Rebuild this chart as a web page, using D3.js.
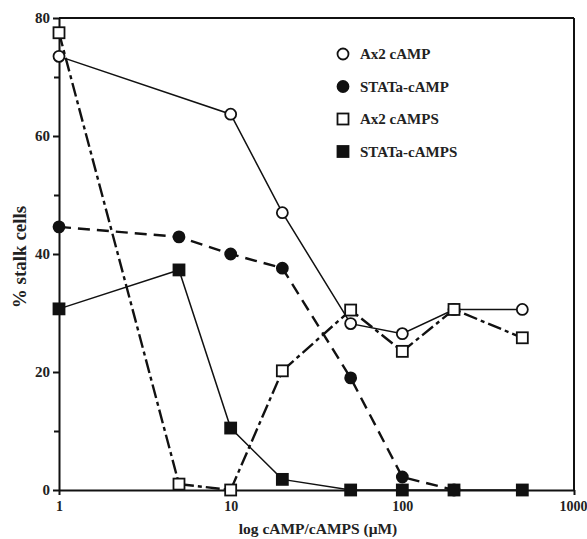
<!DOCTYPE html>
<meta charset="utf-8">
<style>
  body { margin: 0; background: #fff; }
  svg text { font-family: "Liberation Serif", "Times New Roman", serif; font-weight: bold; fill: #222; }
  .axis path, .axis line { stroke: #111; stroke-width: 2px; }
  .axis text { font-size: 15px; }
  .xaxis text { font-size: 14px; }
</style>
<body>
<div id="chart"></div>
<script src="https://cdnjs.cloudflare.com/ajax/libs/d3/7.8.5/d3.min.js"></script>
<script>
  // concentrations (uM)
  var conc = [1, 5, 10, 20, 50, 100, 200, 500];
  var ax2Camp = [73.5, null, 63.7, 47, 28.2, 26.5, 30.6, 30.6];
  var stataCamp = [44.6, 42.9, 40, 37.6, 19, 2.2, 0, null];
  var ax2Camps = [77.5, 1, 0, 20.2, 30.5, 23.5, 30.6, 25.8];
  var stataCamps = [30.7, 37.3, 10.5, 1.8, 0, 0, 0, 0];
  var xTicks = [1, 10, 100, 1000];
  var yTicks = [0, 20, 40, 60, 80];

  var series = [
    { name: "Ax2 cAMP", vals: ax2Camp, shape: "circle", fill: "#fff", dash: null },
    { name: "STATa-cAMP", vals: stataCamp, shape: "circle", fill: "#111", dash: "12,7" },
    { name: "Ax2 cAMPS", vals: ax2Camps, shape: "square", fill: "#fff", dash: "14,4,4,4" },
    { name: "STATa-cAMPS", vals: stataCamps, shape: "square", fill: "#111", dash: null }
  ];

  var W = 587, H = 539;
  var x = d3.scaleLog().domain([1, 1000]).range([59, 574]);
  var y = d3.scaleLinear().domain([0, 80]).range([490, 18]);

  var svg = d3.select("#chart").append("svg")
    .attr("width", W).attr("height", H);

  // frame top / right
  svg.append("line").attr("x1", 59).attr("x2", 574).attr("y1", 18).attr("y2", 18)
    .attr("stroke", "#111").attr("stroke-width", 2);
  svg.append("line").attr("x1", 574).attr("x2", 574).attr("y1", 18).attr("y2", 490)
    .attr("stroke", "#111").attr("stroke-width", 2);

  // y axis with minor ticks
  svg.append("g").attr("class", "axis")
    .attr("transform", "translate(59,0)")
    .call(d3.axisLeft(y).tickValues([10, 30, 50, 70]).tickSize(5).tickFormat(""))
    .select(".domain").remove();
  svg.append("g").attr("class", "axis")
    .attr("transform", "translate(59,0)")
    .call(d3.axisLeft(y).tickValues(yTicks).tickSize(6).tickSizeOuter(0).tickPadding(3));

  var xa = svg.append("g").attr("class", "axis xaxis")
    .attr("transform", "translate(0,490)")
    .call(d3.axisBottom(x).tickValues(xTicks).tickFormat(d3.format("d")).tickSize(5).tickSizeOuter(0).tickPadding(6));
  // keep the last label inside the window
  xa.selectAll(".tick text").filter(function(d) { return d === 1000; })
    .attr("text-anchor", "end").attr("dx", 13);

  // axis titles
  svg.append("text")
    .attr("transform", "translate(26,257) rotate(-90)")
    .attr("text-anchor", "middle")
    .style("font-size", "19px")
    .text("% stalk cells");
  svg.append("text")
    .attr("x", 318).attr("y", 534)
    .attr("text-anchor", "middle")
    .style("font-size", "15.5px")
    .text("log cAMP/cAMPS (\u03bcM)");

  var line = d3.line()
    .defined(function(d) { return d.v != null; })
    .x(function(d) { return x(d.c); })
    .y(function(d) { return y(d.v); });

  function drawMarker(g, shape, fill, cx, cy) {
    if (shape === "circle") {
      g.append("circle").attr("cx", cx).attr("cy", cy).attr("r", 5.5)
        .attr("fill", fill).attr("stroke", "#111").attr("stroke-width", 1.8);
    } else {
      g.append("rect").attr("x", cx - 5.5).attr("y", cy - 5.5)
        .attr("width", 11).attr("height", 11)
        .attr("fill", fill).attr("stroke", "#111").attr("stroke-width", 1.8);
    }
  }

  series.forEach(function(s) {
    var pts = conc.map(function(c, i) { return { c: c, v: s.vals[i] }; })
      .filter(function(d) { return d.v != null; });
    svg.append("path")
      .datum(pts)
      .attr("d", line)
      .attr("fill", "none")
      .attr("stroke", "#111")
      .attr("stroke-width", s.dash ? 2.4 : 1.5)
      .attr("stroke-dasharray", s.dash);
    var g = svg.append("g");
    pts.forEach(function(d) { drawMarker(g, s.shape, s.fill, x(d.c), y(d.v)); });
  });

  // legend
  var leg = svg.append("g");
  series.forEach(function(s, i) {
    var ly = 54 + i * 32.5;
    drawMarker(leg, s.shape, s.fill, 343, ly);
    leg.append("text").attr("x", 360).attr("y", ly + 5)
      .style("font-size", "15px").text(s.name);
  });
</script>
</body>
